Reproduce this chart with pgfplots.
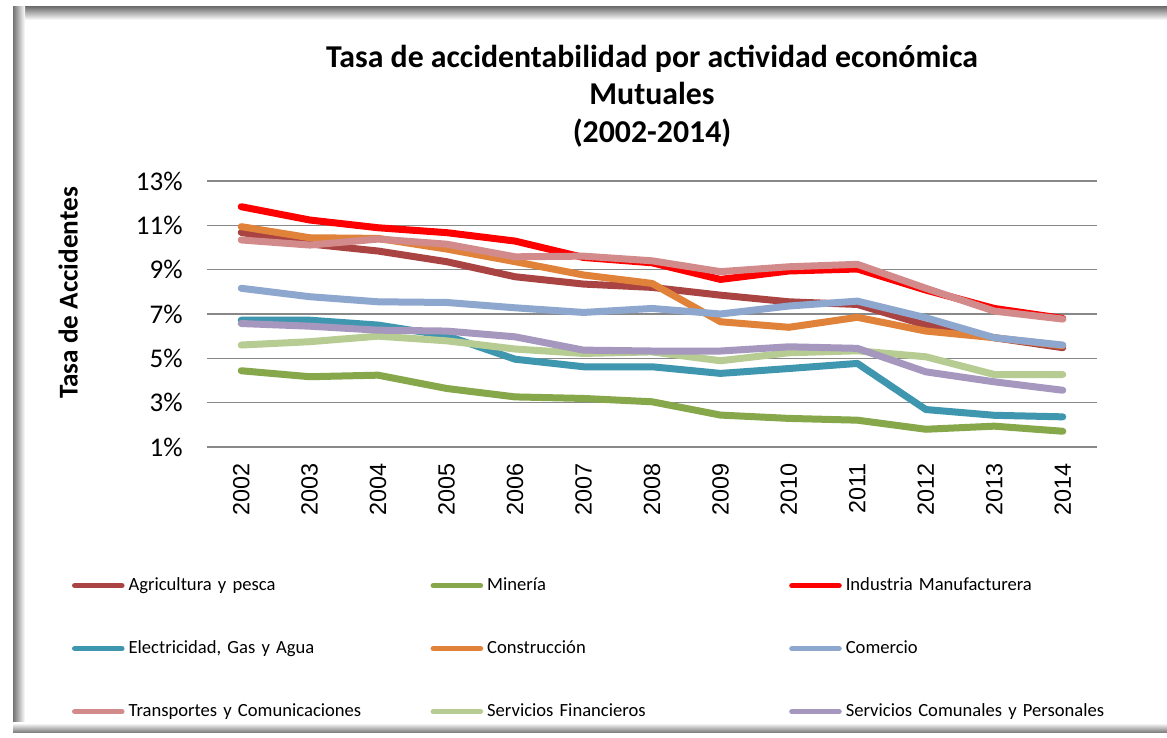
\documentclass[border=0pt]{standalone}
\usepackage{pgfplots}
\usepackage{pgfplotstable}
\pgfplotsset{compat=1.18}
\usepackage{fontspec}
\setmainfont{Carlito}
\newfontfamily\arialfont{Liberation Sans}
\definecolor{cagr}{HTML}{A94442}
\definecolor{cmin}{HTML}{86A74A}
\definecolor{cind}{HTML}{FF0000}
\definecolor{cele}{HTML}{3F96AF}
\definecolor{ccon}{HTML}{E0823A}
\definecolor{ccom}{HTML}{8EA7CF}
\definecolor{ctra}{HTML}{D38A8A}
\definecolor{cfin}{HTML}{B6CC92}
\definecolor{ccos}{HTML}{A697BF}
\definecolor{cgrid}{HTML}{888888}

\pgfplotstableread{
x agr min ind ele con com tra fin cos
0 10.68 4.44 11.84 6.72 10.94 8.16 10.34 5.60 6.57
1 10.16 4.17 11.24 6.72 10.44 7.78 10.11 5.75 6.45
2 9.84 4.24 10.89 6.50 10.41 7.55 10.38 6.00 6.27
3 9.36 3.64 10.67 6.02 9.93 7.52 10.15 5.79 6.23
4 8.68 3.26 10.29 4.96 9.36 7.28 9.58 5.42 5.97
5 8.35 3.19 9.55 4.62 8.76 7.07 9.61 5.22 5.37
6 8.20 3.04 9.31 4.62 8.38 7.25 9.40 5.29 5.33
7 7.85 2.44 8.56 4.32 6.65 7.00 8.91 4.89 5.33
8 7.55 2.29 8.94 4.54 6.40 7.36 9.13 5.25 5.52
9 7.43 2.21 9.03 4.77 6.85 7.58 9.24 5.34 5.45
10 6.50 1.80 8.08 2.69 6.23 6.83 8.16 5.07 4.39
11 5.93 1.94 7.25 2.43 5.93 5.93 7.13 4.27 3.94
12 5.48 1.71 6.80 2.36 5.57 5.60 6.77 4.27 3.56
}\data

\begin{document}
\begin{tikzpicture}
\useasboundingbox (0,0) rectangle (583.5pt,369pt);
\fill[white] (0,0) rectangle (583.5pt,369pt);
% frame with inner shadow
\shade[top color=black!55, bottom color=white] (6.5pt,359pt) rectangle (583.5pt,365.5pt);
\shade[left color=black!55, right color=white] (6.5pt,2.5pt) rectangle (12.5pt,365.5pt);
\shade[bottom color=black!55, top color=white] (6.5pt,2.5pt) rectangle (583.5pt,7.5pt);
\begin{axis}[
  at={(103.5pt,145.5pt)}, anchor=south west,
  scale only axis, width=445pt, height=133pt,
  xmin=-0.5, xmax=12.5, ymin=1, ymax=13,
  xtick={0,...,12},
  xticklabels={2002,2003,2004,2005,2006,2007,2008,2009,2010,2011,2012,2013,2014},
  ytick={1,3,5,7,9,11,13},
  yticklabel={\pgfmathprintnumber{\tick}\%},
  /pgf/number format/assume math mode=true,
  axis line style={draw=none},
  major tick length=0pt,
  ymajorgrids, grid style={cgrid, line width=0.75pt},
  xticklabel style={rotate=90, anchor=east, inner sep=0pt, font=\arialfont\fontsize{11.7}{12}\selectfont},
  xticklabel shift=8pt,
  yticklabel style={anchor=east, inner sep=0pt, font=\fontsize{13.5}{13.5}\selectfont},
  yticklabel shift=12pt,
  ylabel={Tasa de Accidentes},
  ylabel style={at={(axis description cs:-0.156,0.579)}, anchor=center, font=\bfseries\fontsize{13.6}{13.6}\selectfont},
  title={Tasa de accidentabilidad por actividad económica\\Mutuales\\(2002-2014)},
  title style={at={(axis description cs:0.5,1.274)}, anchor=center, align=center, font=\bfseries\fontsize{15.9}{18.75}\selectfont},
  legend columns=3,
  legend cell align=left,
  legend style={at={(axis description cs:-0.1517,-0.489)}, anchor=north west, draw=none, fill=none, inner sep=0pt, outer sep=0pt,
    row sep=23pt, column sep=0pt,
    nodes={text width=149pt, align=left, inner xsep=2pt, inner ysep=0pt, text height=6.5pt, text depth=2pt},
    font=\fontsize{9.3}{11}\selectfont},
  legend image code/.code={\draw[#1, line width=2.8pt] (0pt,0pt) -- (23.5pt,0pt);},
  every axis plot/.append style={line width=3.5pt, line cap=round, line join=round},
]
\addplot[cagr] table[x=x,y=agr]{\data};
\addlegendentry{Agricultura y pesca}
\addplot[cmin] table[x=x,y=min]{\data};
\addlegendentry{Minería}
\addplot[cind] table[x=x,y=ind]{\data};
\addlegendentry{Industria Manufacturera}
\addplot[cele] table[x=x,y=ele]{\data};
\addlegendentry{Electricidad, Gas y Agua}
\addplot[ccon] table[x=x,y=con]{\data};
\addlegendentry{Construcción}
\addplot[ccom] table[x=x,y=com]{\data};
\addlegendentry{Comercio}
\addplot[ctra] table[x=x,y=tra]{\data};
\addlegendentry{Transportes y Comunicaciones}
\addplot[cfin] table[x=x,y=fin]{\data};
\addlegendentry{Servicios Financieros}
\addplot[ccos] table[x=x,y=cos]{\data};
\addlegendentry{Servicios Comunales y Personales}
\end{axis}
\end{tikzpicture}
\end{document}
